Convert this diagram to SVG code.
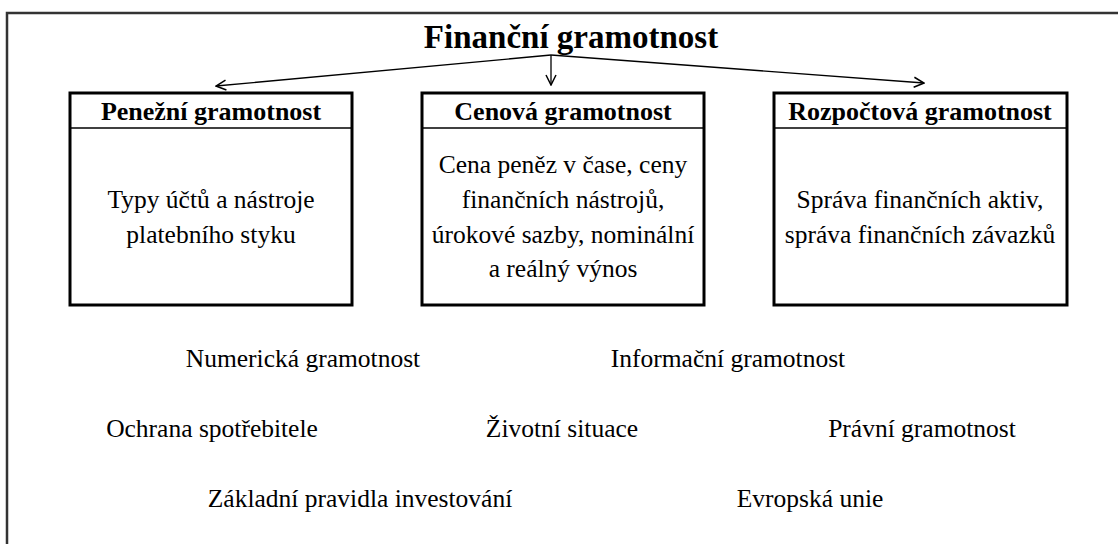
<svg xmlns="http://www.w3.org/2000/svg" width="1118" height="544" viewBox="0 0 1118 544">
<style>
.t{font-family:"Liberation Serif","Times New Roman",serif;fill:#000}
.title{font-size:33px;font-weight:bold}
.hd{font-size:26px;font-weight:bold}
.bd{font-size:25.5px}
.lb{font-size:25.5px}
.box{fill:#fff;stroke:#000;stroke-width:3}
.sep{stroke:#000;stroke-width:1.5}
.con{stroke:#000;stroke-width:1.3;fill:none}
</style>
<defs>
<marker id="ah" viewBox="0 0 12 12" refX="11" refY="6" markerWidth="12" markerHeight="12" markerUnits="userSpaceOnUse" orient="auto">
<path d="M1,1 L11,6 L1,11" fill="none" stroke="#000" stroke-width="1.5"/>
</marker>
</defs>
<rect width="1118" height="544" fill="#fff"/>
<path d="M7,544 V13 H1118" fill="none" stroke="#333" stroke-width="2.5"/>
<g id="title"><text class="t title" x="571" y="48" text-anchor="middle">Finanční gramotnost</text></g>
<g id="connectors">
<line class="con" x1="551" y1="55" x2="216" y2="86" marker-end="url(#ah)"/>
<line class="con" x1="551" y1="55" x2="551" y2="85" marker-end="url(#ah)"/>
<line class="con" x1="551" y1="55" x2="924" y2="83" marker-end="url(#ah)"/>
</g>
<g id="penezni">
<rect class="box" x="70" y="93" width="282" height="212"/>
<line class="sep" x1="70" y1="128" x2="352" y2="128"/>
<text class="t hd" x="211" y="120" text-anchor="middle">Penežní gramotnost</text>
<text class="t bd" x="211" y="208" text-anchor="middle">Typy účtů a nástroje</text>
<text class="t bd" x="211" y="243" text-anchor="middle">platebního styku</text>
</g>
<g id="cenova">
<rect class="box" x="422" y="93" width="282" height="212"/>
<line class="sep" x1="422" y1="128" x2="704" y2="128"/>
<text class="t hd" x="563" y="120" text-anchor="middle">Cenová gramotnost</text>
<text class="t bd" x="563" y="173" text-anchor="middle">Cena peněz v čase, ceny</text>
<text class="t bd" x="563" y="208" text-anchor="middle">finančních nástrojů,</text>
<text class="t bd" x="563" y="243" text-anchor="middle">úrokové sazby, nominální</text>
<text class="t bd" x="563" y="277" text-anchor="middle">a reálný výnos</text>
</g>
<g id="rozpoctova">
<rect class="box" x="774" y="93" width="293" height="212"/>
<line class="sep" x1="774" y1="128" x2="1067" y2="128"/>
<text class="t hd" x="920" y="120" text-anchor="middle">Rozpočtová gramotnost</text>
<text class="t bd" x="920" y="208" text-anchor="middle">Správa finančních aktiv,</text>
<text class="t bd" x="920" y="243" text-anchor="middle">správa finančních závazků</text>
</g>
<g id="numericka"><text class="t lb" x="303" y="367" text-anchor="middle">Numerická gramotnost</text></g>
<g id="informacni"><text class="t lb" x="728" y="367" text-anchor="middle">Informační gramotnost</text></g>
<g id="ochrana"><text class="t lb" x="212" y="437" text-anchor="middle">Ochrana spotřebitele</text></g>
<g id="zivotni"><text class="t lb" x="562" y="437" text-anchor="middle">Životní situace</text></g>
<g id="pravni"><text class="t lb" x="922" y="437" text-anchor="middle">Právní gramotnost</text></g>
<g id="zakladni"><text class="t lb" x="360" y="507" text-anchor="middle">Základní pravidla investování</text></g>
<g id="evropska"><text class="t lb" x="810" y="507" text-anchor="middle">Evropská unie</text></g>
</svg>
